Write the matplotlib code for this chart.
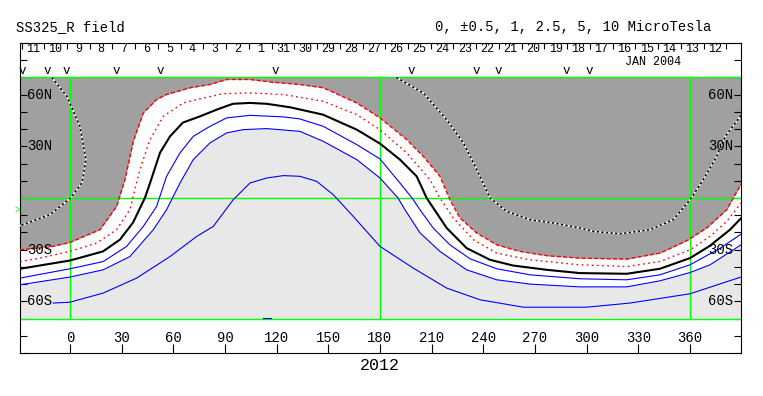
import matplotlib
matplotlib.use("Agg")
import matplotlib.pyplot as plt
import numpy as np

plt.rcParams['font.family'] = ['Liberation Mono', 'DejaVu Sans Mono']

# contour lines (Carrington longitude, latitude)
neutral_lon = [-29, 0, 19.2, 29.0, 36.6, 43.5, 46.5, 52.3, 58.1, 65.6, 75.5, 85.2, 94.6, 104.5, 114.2,
               127.7, 146.9, 166.5, 180, 191.6, 201.3, 207.1, 218.7, 230.3, 243.9, 257.2, 276.8, 296.1,
               323.2, 342.5, 360, 371.6, 383.2, 389.6]
neutral_lat = [-41.1, -36.3, -31.0, -24.2, -14.3, 0, 8.7, 26.3, 35.8, 43.8, 47.4, 51.3, 54.7, 55.2, 54.7,
               52.7, 48.4, 39.7, 31.6, 22.3, 12.6, 0, -17.4, -29.1, -35.9, -39.2, -41.7, -43.6,
               -44.0, -41.1, -34.9, -27.7, -18.4, -11.8]

neg1_lon = [-29, -9.9, 0, 17.4, 27.1, 31.9, 36.8, 42.6, 50.3, 56.1, 69.7, 81.3, 91.0, 104.5, 118.0, 133.5,
            147.1, 166.5, 180, 195.5, 205.1, 214.8, 220.6, 226.4, 236.1, 247.8, 261.3, 276.8, 296.1,
            323.2, 342.5, 358.1, 369.7, 381.3, 389.6]
neg1_lat = [-30.1, -28.1, -25.8, -18.4, -4.9, 10.6, 33.0, 49.4, 57.2, 60.1, 64.0, 65.9, 68.8, 68.8, 67.2, 65.9,
            64.0, 55.2, 46.5, 33.9, 24.2, 12.6, -1.0, -11.6, -20.3, -27.2, -31.0, -33.5, -34.9,
            -35.5, -32.0, -24.8, -17.4, -6.8, 8.0]

neg05_lon = [-29, -17.4, 0, 15.5, 27.1, 34.8, 40.6, 46.5, 54.2, 65.8, 75.5, 89.0, 104.5, 123.9, 147.1,
             166.5, 180, 195.5, 209, 214.8, 222.6, 234.2, 247.8, 267.1, 296.1, 323.2, 342.5, 360,
             371.6, 381.3, 389.6]
neg05_lat = [-36.9, -34.9, -31.0, -26.2, -18.4, -6.8, 16.5, 33.9, 47.4, 55.2, 57.6, 60.6, 61.0, 60.1, 56.2,
             48.4, 39.7, 26.2, 10.6, 0, -11.6, -24.2, -32.0, -35.9, -38.8, -39.8, -36.9, -30.1,
             -22.3, -13.6, -2.9]

pos05_lon = [-29, 0, 19.3, 32.9, 42.6, 50.3, 56.1, 63.9, 71.6, 81.3, 91.0, 104.5, 123.9, 133.5, 147.1,
             166.5, 180, 191.6, 198.6, 203.2, 210.8, 220.6, 232.3, 247.8, 267.1, 296.1, 323.2, 342.5,
             360, 377.4, 389.6]
pos05_lat = [-46.5, -41.1, -36.9, -28.1, -16.5, -4.9, 12.6, 26.2, 35.8, 41.6, 46.5, 48.0, 47.1, 45.9, 41.6,
             31.0, 22.7, 8.7, 0, -6.8, -17.3, -27.2, -35.3, -41.1, -44.6, -46.9, -47.5, -44.6,
             -38.8, -29.2, -21.0]

pos1_lon = [-29, 0, 19.3, 34.8, 48.4, 56.1, 63.9, 71.6, 81.3, 91.0, 100.6, 114.2, 133.5, 147.1, 166.5,
            180, 190.5, 194.5, 203.2, 214.8, 230.3, 247.8, 267.1, 296.1, 323.2, 342.5, 360, 371.6, 389.6]
pos1_lat = [-50.4, -45.9, -41.7, -34.0, -18.4, -6.8, 8.7, 22.3, 32.0, 37.8, 39.7, 40.3, 38.7, 32.9, 22.3,
            11.6, 0, -6.8, -20.2, -31.0, -41.7, -47.5, -50.0, -51.6, -51.6, -48.1, -43.3, -38.8, -27.2]

pos25_lon = [-9.7, 0, 19.3, 38.7, 58.1, 73.6, 83.2, 94.8, 104.5, 114.2, 123.9, 133.5, 143.2, 152.9, 164.5,
             180, 199.3, 218.7, 238.1, 263.2, 300.0, 325.2, 360, 389.6]
pos25_lat = [-61.0, -60.5, -55.2, -46.5, -34.0, -22.3, -16.5, -1.0, 8.7, 11.6, 13.0, 12.6, 9.7, 1.9, -10.7,
             -28.1, -40.7, -52.3, -59.1, -63.4, -63.4, -61.0, -55.6, -45.9]

pos5_lon = [112, 117]
pos5_lat = [-69.6, -69.6]

neg25a_lon = [-10.5, -1.7, 5.8, 9.3, 7.0, 0.6, -11.6, -29]
neg25a_lat = [70, 58.9, 41.5, 22.2, 8.9, 0.2, -9.7, -16.1]
neg25b_lon = [189.5, 205.1, 218.7, 228.4, 236.2, 243.9, 253.6, 267.1, 280.6, 296.1, 303.9, 319.4, 336.8,
              350.3, 360, 367.7, 375.5, 380.3, 389.6]
neg25b_lat = [70, 61.0, 45.5, 32.0, 16.5, 0, -7.8, -12.6, -14.5, -17.4, -19.4, -20.8, -18.4,
              -12.6, -1.0, 10.6, 24.2, 35.5, 48]

# observation marks and Earth latitude
obs_lon = [-27.5, -13.0, -2.0, 27.1, 52.3, 119.0, 198.4, 236.1, 248.6, 288.3, 301.4]
earth_lat = -7

# day labels along the top (time runs right to left)
days = [11, 10, 9, 8, 7, 6, 5, 4, 3, 2, 1, 31, 30, 29, 28, 27, 26, 25, 24, 23, 22, 21, 20,
        19, 18, 17, 16, 15, 14, 13, 12]
first_day_lon = -21.5
deg_per_day = 360 / 27.2753

lon_ticks = list(range(0, 361, 30))
lat_labels = {60: '60N', 30: '30N', -30: '30S', -60: '60S'}

DARK = '#a0a0a0'
LIGHT = '#e8e8e8'
GREEN = '#00ff00'

fig = plt.figure(figsize=(7.63, 3.96), dpi=100)
ax = fig.add_axes([20 / 763, 43 / 396, 721 / 763, 310 / 396])
ax.set_xlim(-29, 389.6)
ax.set_ylim(-90, 90)

# shaded polarity regions
ax.fill_between(neg1_lon, neg1_lat, 70, color=DARK, lw=0, zorder=1)
ax.fill_between(pos1_lon, -70, pos1_lat, color=LIGHT, lw=0, zorder=1)

# green grid
for lat in (70, 0, -70):
    ax.axhline(lat, color=GREEN, lw=1.0, zorder=2)
for lon in (0, 180, 360):
    ax.plot([lon, lon], [-70, 70], color=GREEN, lw=1.0, zorder=2)

# contours
ax.plot(neg1_lon, neg1_lat, color='red', lw=1.0, dashes=(3, 1.5), zorder=3)
ax.plot(neg05_lon, neg05_lat, color='red', lw=1.0, dashes=(1.2, 2.5), zorder=3)
ax.plot(neutral_lon, neutral_lat, color='black', lw=1.5, zorder=3)
for lo, la in [(pos05_lon, pos05_lat), (pos1_lon, pos1_lat), (pos25_lon, pos25_lat), (pos5_lon, pos5_lat)]:
    ax.plot(lo, la, color='blue', lw=0.8, zorder=3)
for lo, la in [(neg25a_lon, neg25a_lat), (neg25b_lon, neg25b_lat)]:
    ax.plot(lo, la, color='white', lw=1.1, zorder=3)
    ax.plot(lo, la, color='black', lw=1.1, dashes=(1.5, 1.5), zorder=3)

# observation marks
for lon in obs_lon:
    ax.text(lon, 73.5, 'v', ha='center', va='center', fontsize=9, zorder=4)
ax.text(-29, earth_lat, '>', color=GREEN, ha='right', va='center', fontsize=7, clip_on=False)

# axes ticks
ax.set_xticks(lon_ticks)
ax.set_yticks(range(-90, 91, 10))
ax.tick_params(axis='x', direction='in', length=6.5, width=0.8, labelbottom=False)
ax.tick_params(axis='y', direction='in', length=5, width=0.8, left=True, right=True,
               labelleft=False)
for lon in lon_ticks:
    ax.text(lon, -81, str(lon), ha='center', va='center', fontsize=10)
for lat, lab in lat_labels.items():
    ax.annotate(lab, (0, lat), xycoords=('axes fraction', 'data'), xytext=(5, 0),
                textcoords='offset points', ha='left', va='center', fontsize=10, zorder=5)
    ax.annotate(lab, (1, lat), xycoords=('axes fraction', 'data'), xytext=(-5.5, 0),
                textcoords='offset points', ha='right', va='center', fontsize=10, zorder=5)
for sp in ax.spines.values():
    sp.set_linewidth(0.8)

# day scale on top
day_lon = [first_day_lon + i * deg_per_day for i in range(len(days))]
bounds = [l - deg_per_day / 2 for l in day_lon] + [day_lon[-1] + deg_per_day / 2]
top = ax.twiny()
top.set_xlim(ax.get_xlim())
top.set_xticks(bounds)
top.tick_params(axis='x', direction='in', length=4.5, width=0.8, labeltop=False)
for sp in top.spines.values():
    sp.set_visible(False)
for lon, d in zip(day_lon, days):
    ax.text(lon, 86.8, str(d), ha='center', va='center', fontsize=8.5)
ax.text(338.5, 78.8, 'JAN 2004', ha='center', va='center', fontsize=8.5)

fig.text(16 / 763, 1 - 27 / 396, 'SS325_R field', ha='left', va='center', fontsize=10)
fig.text(711 / 763, 1 - 27 / 396, '0, \u00b10.5, 1, 2.5, 5, 10 MicroTesla', ha='right', va='center',
         fontsize=10)
fig.text(380 / 763, 1 - 366 / 396, '2012', ha='center', va='center', fontsize=12)

fig.savefig('out.png', dpi=100)
